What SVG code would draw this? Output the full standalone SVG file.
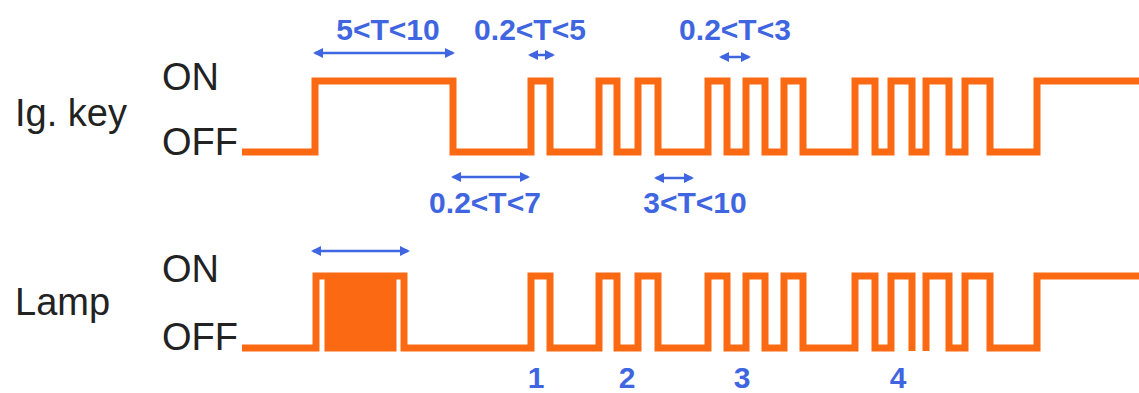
<svg xmlns="http://www.w3.org/2000/svg" width="1139" height="393" viewBox="0 0 1139 393">
<style>
.wave{fill:none;stroke:#fb6a12;stroke-width:7;stroke-linejoin:miter;stroke-linecap:butt}
.lbl{font-family:"Liberation Sans",Arial,sans-serif;font-size:38px;fill:#222}
.blue{font-family:"Liberation Sans",Arial,sans-serif;font-size:30px;font-weight:bold;fill:#3f66e0;text-anchor:middle}
.arr{stroke:#3f66e0;stroke-width:2.5;fill:none;marker-start:url(#ah);marker-end:url(#ah)}
</style>
<defs>
<marker id="ah" viewBox="0 0 10 10" refX="8" refY="5" markerWidth="10" markerHeight="12" markerUnits="userSpaceOnUse" orient="auto-start-reverse">
<path d="M0,0 L10,5 L0,10 z" fill="#3f66e0"/>
</marker>
</defs>
<rect width="1139" height="393" fill="#fff"/>
<g id="ignition-key">
<text class="lbl" x="15" y="126">Ig. key</text>
<text class="lbl" x="162" y="90">ON</text>
<text class="lbl" x="162" y="155">OFF</text>
<path class="wave" d="M242 152 H315 V81 H453 V152 H531 V81 H550 V152 H599 V81 H617 V152 H638 V81 H658 V152 H708 V81 H727 V152 H746 V81 H765 V152 H784 V81 H803 V152 H855 V81 H875 V152 H891 V81 H912 V152 H926 V81 H949 V152 H965 V81 H990 V152 H1037 V81 H1139"/>
</g>
<g id="lamp">
<text class="lbl" x="15" y="315">Lamp</text>
<text class="lbl" x="162" y="282">ON</text>
<text class="lbl" x="162" y="350">OFF</text>
<path class="wave" d="M242 348 H316 V276 H328 V348 H332 V276 H336 V348 H340 V276 H344 V348 H348 V276 H352 V348 H356 V276 H360 V348 H364 V276 H368 V348 H372 V276 H376 V348 H380 V276 H384 V348 H388 V276 H389 V348 H393 V276 H404 V348 H531 V276 H550 V348 H599 V276 H617 V348 H638 V276 H658 V348 H708 V276 H727 V348 H746 V276 H765 V348 H784 V276 H803 V348 H855 V276 H875 V348 H891 V276 H912 V351 M926 351 V276 H949 V348 H965 V276 H990 V348 H1037 V276 H1139"/>
</g>
<g id="connectors">
<line class="arr" x1="315" y1="53" x2="453" y2="53"/>
<line class="arr" x1="530" y1="55" x2="553" y2="55"/>
<line class="arr" x1="721" y1="57" x2="749" y2="57"/>
<line class="arr" x1="453" y1="177" x2="528" y2="177"/>
<line class="arr" x1="656" y1="178" x2="692" y2="178"/>
<line class="arr" x1="313" y1="251" x2="408" y2="251"/>
</g>
<g id="labels">
<text class="blue" x="388" y="40">5&lt;T&lt;10</text>
<text class="blue" x="530" y="40">0.2&lt;T&lt;5</text>
<text class="blue" x="735" y="40">0.2&lt;T&lt;3</text>
<text class="blue" x="485" y="213">0.2&lt;T&lt;7</text>
<text class="blue" x="695" y="213">3&lt;T&lt;10</text>
<text class="blue" x="536" y="388">1</text>
<text class="blue" x="627" y="388">2</text>
<text class="blue" x="742" y="388">3</text>
<text class="blue" x="898" y="388">4</text>
</g>
</svg>
